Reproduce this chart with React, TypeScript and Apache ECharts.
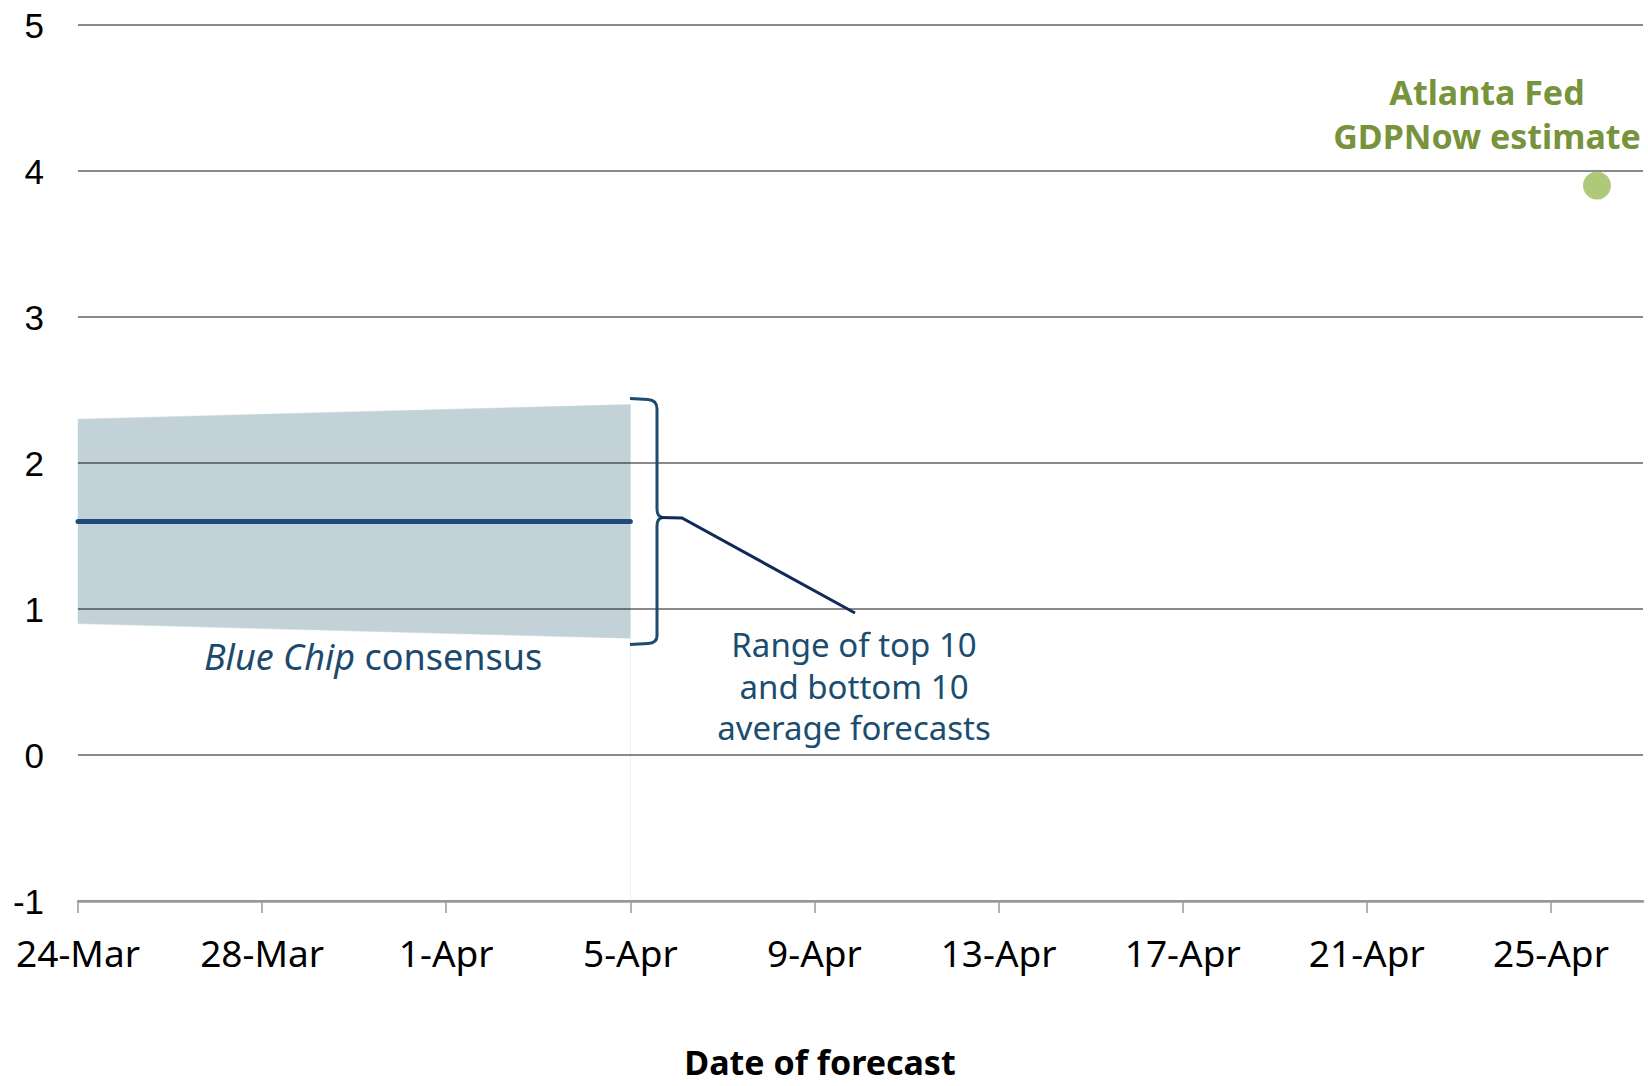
import React, { useEffect, useRef } from "react";
import * as echarts from "echarts";

// ---------- data ----------
const START_DATE = "2024-03-24";
const END_DATE = "2024-04-27";
const tickLabels = ["24-Mar", "28-Mar", "1-Apr", "5-Apr", "9-Apr", "13-Apr", "17-Apr", "21-Apr", "25-Apr"];
const tickStepDays = 4;
const yMin = -1;
const yMax = 5;
const yStep = 1;

const bandDates = ["2024-03-24", "2024-04-05"];
const bandLow = [0.9, 0.8];
const bandHigh = [2.3, 2.4];

const consensusDates = ["2024-03-24", "2024-04-05"];
const consensusValues = [1.6, 1.6];

const gdpNowDates = ["2024-04-26"];
const gdpNowValues = [3.9];

// ---------- helpers ----------
const dayIndex = (iso: string) => (Date.parse(iso) - Date.parse(START_DATE)) / 86400000;
const xMax = dayIndex(END_DATE);
const tickValues = tickLabels.map((_, i) => i * tickStepDays);

const BRACE_D =
  "M630,398.5 L648,399.5 Q657,400 657,409 L657,509 Q657,517 663,517.5 Q657,518 657,526 L657,636 Q657,643 648,643.5 L630,644.5";
echarts.graphic.registerShape("brace", echarts.graphic.extendPath(BRACE_D, {}));

const TEXT_FONT = "'Noto Sans', 'DejaVu Sans', sans-serif";

export default function App() {
  const ref = useRef<HTMLDivElement>(null);

  useEffect(() => {
    document.body.style.margin = "0";
    if (!ref.current) return;
    const chart = echarts.init(ref.current, undefined, { renderer: "svg" });

    const bandData = bandDates.map((d, i) => [dayIndex(d), bandLow[i], bandHigh[i]]);
    const lastBand = bandDates.length - 1;

    chart.setOption({
      animation: false,
      grid: { left: 78, right: 5, top: 25, bottom: 185, containLabel: false },
      xAxis: {
        type: "value",
        min: 0,
        max: xMax,
        interval: tickStepDays,
        z: 3,
        axisLine: { show: true, onZero: false, lineStyle: { color: "#9a9a9a", width: 2.5 } },
        axisTick: {
          show: true,
          length: 12,
          customValues: tickValues,
          lineStyle: { color: "#9a9a9a", width: 1.5 },
        },
        axisLabel: {
          customValues: tickValues,
          margin: 33,
          fontFamily: TEXT_FONT,
          fontSize: 37,
          lineHeight: 37,
          color: "#000",
          formatter: (v: number) => {
            const i = Math.round(v / tickStepDays);
            return Math.abs(v - i * tickStepDays) < 1e-6 && tickLabels[i] ? tickLabels[i] : "";
          },
        },
        splitLine: { show: false },
      },
      yAxis: {
        type: "value",
        min: yMin,
        max: yMax,
        interval: yStep,
        z: 3,
        axisLine: { show: false },
        axisTick: { show: false },
        axisLabel: {
          margin: 34,
          fontFamily: "'Liberation Sans', Arial, sans-serif",
          fontSize: 35,
          color: "#000",
        },
        splitLine: { show: true, lineStyle: { color: "rgba(0,0,0,0.46)", width: 2 } },
      },
      series: [
        {
          name: "Range of top 10 and bottom 10 average forecasts",
          type: "custom",
          data: bandData,
          encode: { x: 0, y: [1, 2] },
          z: 1,
          silent: true,
          renderItem: (params: any, api: any) => {
            const i = params.dataIndex;
            if (i >= bandData.length - 1) return null;
            const a = bandData[i];
            const b = bandData[i + 1];
            const pts = [
              api.coord([a[0], a[2]]),
              api.coord([b[0], b[2]]),
              api.coord([b[0], b[1]]),
              api.coord([a[0], a[1]]),
            ];
            return {
              type: "polygon",
              shape: { points: pts },
              style: { fill: "#c3d2d9", stroke: "#c3d2d9", lineWidth: 0.5 },
            };
          },
        },
        {
          name: "band-edge",
          type: "line",
          data: [
            [dayIndex(bandDates[lastBand]), bandLow[lastBand]],
            [dayIndex(bandDates[lastBand]), yMin],
          ],
          symbol: "none",
          lineStyle: { color: "#f0f0f0", width: 1 },
          z: 1,
          silent: true,
        },
        {
          name: "Blue Chip consensus",
          type: "line",
          data: consensusDates.map((d, i) => [dayIndex(d), consensusValues[i]]),
          symbol: "none",
          lineStyle: { color: "#1f4a7e", width: 5, cap: "round" },
          z: 5,
        },
        {
          name: "Atlanta Fed GDPNow estimate",
          type: "scatter",
          data: gdpNowDates.map((d, i) => [dayIndex(d), gdpNowValues[i]]),
          symbol: "circle",
          symbolSize: 28,
          itemStyle: { color: "#9bbb59" },
          z: 6,
        },
      ],
      graphic: [
        {
          type: "brace",
          x: 0,
          y: 0,
          z: 10,
          shape: {},
          style: { stroke: "#1f4b6e", lineWidth: 3, fill: "none" },
        },
        {
          type: "polyline",
          z: 10,
          shape: { points: [[660, 517.5], [682, 518], [855, 613]] },
          style: { stroke: "#10295a", lineWidth: 3, fill: "none" },
        },
        {
          type: "text",
          x: 854,
          y: 686,
          z: 10,
          style: {
            text: "Range of top 10\nand bottom 10\naverage forecasts",
            fontFamily: TEXT_FONT,
            fontSize: 33,
            lineHeight: 41.5,
            fill: "#1a4d70",
            align: "center",
            verticalAlign: "middle",
          },
        },
        {
          type: "text",
          x: 204,
          y: 656,
          z: 10,
          style: {
            text: "{i|Blue Chip} {r|consensus}",
            fontFamily: TEXT_FONT,
            fontSize: 36,
            fill: "#1c4a6e",
            align: "left",
            verticalAlign: "middle",
            rich: {
              i: { fontFamily: TEXT_FONT, fontSize: 36, fontStyle: "italic", fill: "#1c4a6e" },
              r: { fontFamily: TEXT_FONT, fontSize: 36, fill: "#1c4a6e" },
            },
          },
        },
        {
          type: "text",
          x: 1487,
          y: 113.5,
          z: 10,
          style: {
            text: "Atlanta Fed\nGDPNow estimate",
            fontFamily: TEXT_FONT,
            fontSize: 34,
            fontWeight: "bold",
            lineHeight: 44,
            fill: "#77933c",
            align: "center",
            verticalAlign: "middle",
          },
        },
        {
          type: "text",
          x: 820,
          y: 1062,
          z: 10,
          style: {
            text: "Date of forecast",
            fontFamily: TEXT_FONT,
            fontSize: 34,
            lineHeight: 36,
            fontWeight: "bold",
            fill: "#000",
            align: "center",
            verticalAlign: "middle",
          },
        },
      ],
    });

    return () => chart.dispose();
  }, []);

  return (
    <div
      ref={ref}
      style={{ position: "fixed", left: 0, top: 0, width: 1648, height: 1086, background: "#fff" }}
    />
  );
}
